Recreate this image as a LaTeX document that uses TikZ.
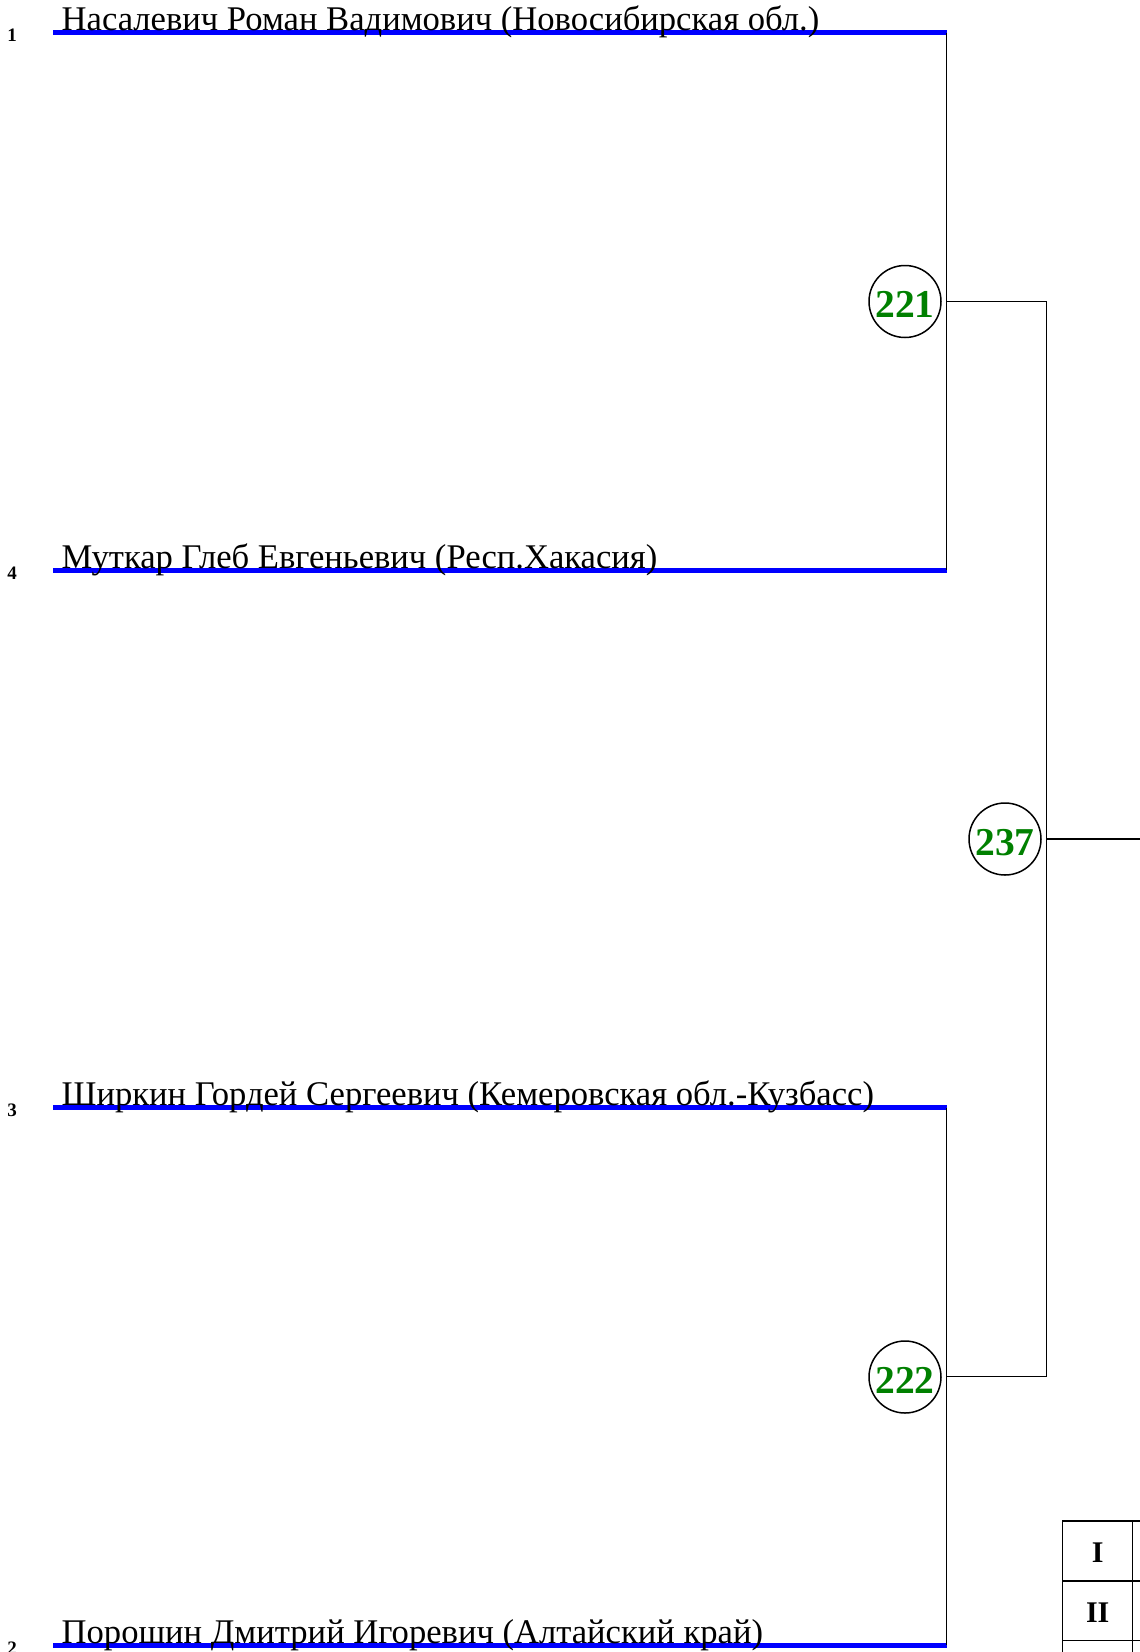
\documentclass[tikz,border=0pt]{standalone}
\usepackage{fontspec}
\setmainfont{Liberation Serif}
\definecolor{mgreen}{RGB}{0,128,0}
\begin{document}
\begin{tikzpicture}[x=1pt,y=-1pt,
  bline/.style={draw=blue, line width=5pt},
  conn/.style={draw=black, line width=1.5pt},
  player/.style={anchor=base west, inner sep=0pt, font=\fontsize{34.6}{40}\selectfont},
  seed/.style={anchor=base, inner sep=0pt, font=\bfseries\fontsize{19}{22}\selectfont},
  match/.style={circle, draw=black, line width=1.5pt, minimum size=72pt, inner sep=0pt,
    text height=32.7pt, text depth=0pt,
    text=mgreen, font=\bfseries\fontsize{39.5}{40}\selectfont},
  cell/.style={rectangle, draw=black, line width=1.5pt, minimum width=70pt, minimum height=60pt,
    inner sep=0pt, text height=23.9pt, text depth=0pt, font=\bfseries\fontsize{30}{34}\selectfont},
  cellb/.style={rectangle, draw=black, line width=1.5pt, minimum width=100pt, minimum height=60pt, inner sep=0pt}]
\useasboundingbox (0,0) rectangle (1140,1652);
\clip (0,0) rectangle (1140,1652);

% player lines
\coordinate (a1) at (53,32.7);    \coordinate (b1) at (946.7,32.7);
\coordinate (a4) at (53,570.2);   \coordinate (b4) at (946.7,570.2);
\coordinate (a3) at (53,1107.7);  \coordinate (b3) at (946.7,1107.7);
\coordinate (a2) at (53,1645.2);  \coordinate (b2) at (946.7,1645.2);
\draw[bline] (a1) -- (b1);
\draw[bline] (a4) -- (b4);
\draw[bline] (a3) -- (b3);
\draw[bline] (a2) -- (b2);

\node[player] (p1) at (61.5,30.5) {Насалевич Роман Вадимович (Новосибирская обл.)};
\node[player] (p4) at (61.5,568) {Муткар Глеб Евгеньевич (Респ.Хакасия)};
\node[player] (p3) at (61.5,1105.5) {Ширкин Гордей Сергеевич (Кемеровская обл.-Кузбасс)};
\node[player] (p2) at (61.5,1643) {Порошин Дмитрий Игоревич (Алтайский край)};

\node[seed] (s1) at (12,41.5) {1};
\node[seed] (s4) at (12,579) {4};
\node[seed] (s3) at (12,1116.5) {3};
\node[seed] (s2) at (12,1654) {2};

% bracket
\coordinate (j221) at (946.7,301.5);  \coordinate (k221) at (1046.7,301.5);
\coordinate (j222) at (946.7,1376.5); \coordinate (k222) at (1046.7,1376.5);
\coordinate (j237) at (1046.7,839);   \coordinate (k237) at (1140,839);
\draw[conn] (b1) -- (b4);
\draw[conn] (b3) -- (b2);
\draw[conn] (j221) -- (k221) -- (k222) -- (j222);
\draw[conn] (j237) -- (k237);

\node[match] (m221) at (905,301.5) {221};
\node[match] (m222) at (905,1377) {222};
\node[match] (m237) at (1005,839) {237};

% places table
\node[cell] (c1) at (1097.7,1550.9) {I};
\node[cell] (c2) at (1097.7,1610.7) {II};
\node[cell] (c3) at (1097.7,1670.5) {};
\node[cellb] (d1) at (1182.7,1550.9) {};
\node[cellb] (d2) at (1182.7,1610.7) {};
\node[cellb] (d3) at (1182.7,1670.5) {};
\end{tikzpicture}
\end{document}
